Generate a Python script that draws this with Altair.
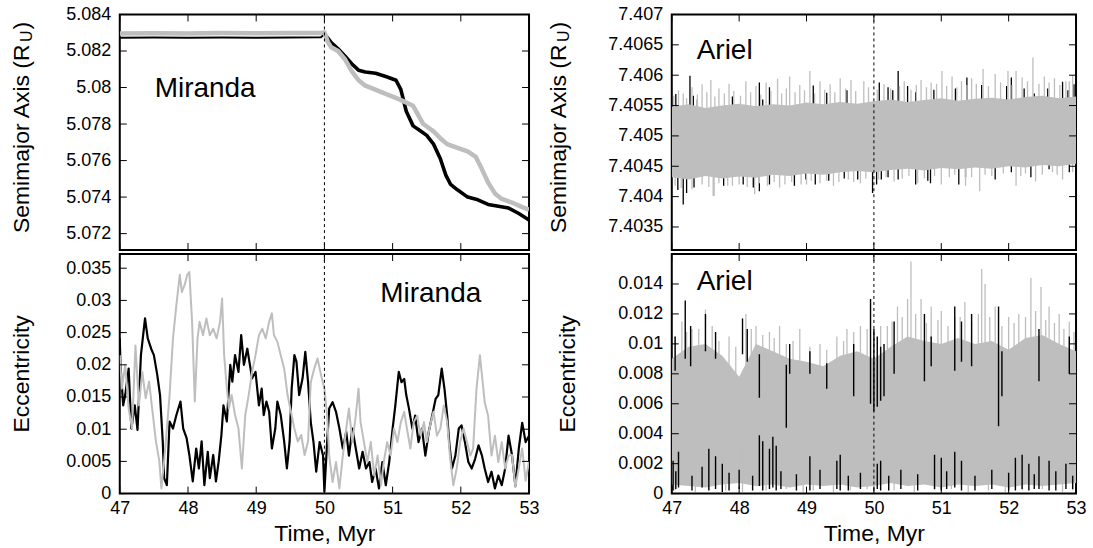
import altair as alt
import pandas as pd

FONT = "Liberation Sans"
GRAY = "#bebebe"
TL = 7  # inward tick length (px)

# ---------------- axis ticks ----------------
X_TICKS = [47, 48, 49, 50, 51, 52, 53]
MIR_A_TICKS = [5.072, 5.074, 5.076, 5.078, 5.08, 5.082, 5.084]
MIR_E_TICKS = [0, 0.005, 0.01, 0.015, 0.02, 0.025, 0.03, 0.035]
ARI_A_TICKS = [7.4035, 7.404, 7.4045, 7.405, 7.4055, 7.406, 7.4065, 7.407]
ARI_E_TICKS = [0, 0.002, 0.004, 0.006, 0.008, 0.01, 0.012, 0.014]
MIR_A_DOM = [5.0711, 5.084]
MIR_E_DOM = [0, 0.0372]
ARI_A_DOM = [7.40312, 7.407]
ARI_E_DOM = [0, 0.016]

# ---------------- Miranda semimajor axis ----------------
mir_a_black_t = [47.0, 47.5, 48.0, 48.5, 49.0, 49.5, 49.95, 50.0, 50.05, 50.1, 50.2, 50.3, 50.4,
                 50.5, 50.6, 50.75, 50.9, 51.05, 51.12, 51.2, 51.3, 51.4, 51.5, 51.6, 51.7, 51.78,
                 51.85, 51.95, 52.1, 52.25, 52.4, 52.55, 52.7, 52.85, 53.0]
mir_a_black = [5.08272, 5.08274, 5.08273, 5.08274, 5.08272, 5.08274, 5.08275, 5.08292, 5.08270,
               5.08246, 5.08212, 5.08173, 5.08130, 5.08095, 5.08085, 5.08078, 5.08060, 5.08040,
               5.07990, 5.07870, 5.07790, 5.07765, 5.07738, 5.07690, 5.07610, 5.07520, 5.07470,
               5.07440, 5.07400, 5.07385, 5.07360, 5.07350, 5.07340, 5.07310, 5.07275]
mir_a_gray_t = [47.0, 47.5, 48.0, 48.5, 49.0, 49.5, 49.95, 50.0, 50.05, 50.1, 50.2, 50.3, 50.4,
                50.5, 50.6, 50.8, 51.0, 51.1, 51.3, 51.45, 51.6, 51.72, 51.8, 51.95, 52.1, 52.22,
                52.3, 52.4, 52.5, 52.6, 52.75, 52.9, 53.0]
mir_a_gray = [5.08296, 5.08297, 5.08296, 5.08298, 5.08297, 5.08298, 5.08299, 5.08302, 5.08250,
              5.08220, 5.08200, 5.08155, 5.08090, 5.08040, 5.08010, 5.07980, 5.07950, 5.07935,
              5.07900, 5.07800, 5.07760, 5.07715, 5.07690, 5.07670, 5.07650, 5.07620, 5.07560,
              5.07480, 5.07420, 5.07390, 5.07370, 5.07345, 5.07332]

# ---------------- Miranda eccentricity ----------------
mir_e_black_t = [47.00, 47.01, 47.05, 47.08, 47.13, 47.17, 47.22, 47.26, 47.31, 47.37, 47.41, 47.46,
                 47.50, 47.55, 47.59, 47.63, 47.65, 47.69, 47.73, 47.78, 47.83, 47.89, 47.93, 47.98,
                 48.02, 48.07, 48.12, 48.16, 48.20, 48.24, 48.29, 48.32, 48.37, 48.41, 48.45, 48.49,
                 48.52, 48.57, 48.62, 48.65, 48.69, 48.74, 48.78, 48.82, 48.87, 48.90, 48.94, 48.99,
                 49.04, 49.08, 49.11, 49.15, 49.19, 49.23, 49.28, 49.31, 49.36, 49.41, 49.45, 49.49,
                 49.52, 49.56, 49.59, 49.63, 49.68, 49.72, 49.76,
                 49.80, 49.84, 49.88, 49.93, 49.98, 50.00, 50.04, 50.07, 50.12, 50.17, 50.22, 50.27,
                 50.32, 50.36, 50.41, 50.46, 50.51, 50.56, 50.61, 50.66, 50.70, 50.75, 50.80, 50.85,
                 50.90, 50.95, 51.00, 51.04, 51.09, 51.13, 51.17, 51.20, 51.24, 51.29, 51.33, 51.38,
                 51.43, 51.48, 51.53, 51.58, 51.63, 51.67, 51.72, 51.76, 51.80, 51.83, 51.87, 51.92,
                 51.97, 52.01, 52.06, 52.11, 52.16, 52.21, 52.26, 52.31, 52.35, 52.40, 52.45, 52.50,
                 52.55, 52.60, 52.65, 52.70, 52.75, 52.80, 52.85, 52.90, 52.95, 53.00]
mir_e_black = [0.0241, 0.0200, 0.0137, 0.0153, 0.0194, 0.0101, 0.0137, 0.0099, 0.0215, 0.0272, 0.0241,
               0.0225, 0.0215, 0.0184, 0.0153, 0.0081, 0.0024, 0.0013, 0.0112, 0.0101, 0.0122, 0.0143,
               0.0101, 0.0086, 0.0060, 0.0019, 0.0070, 0.0039, 0.0081, 0.0013, 0.0065, 0.0024, 0.0060,
               0.0019, 0.0050, 0.0091, 0.0137, 0.0112, 0.0200, 0.0174, 0.0215, 0.0189, 0.0246, 0.0200,
               0.0225, 0.0205, 0.0179, 0.0189, 0.0137, 0.0163, 0.0122, 0.0143, 0.0127, 0.0070, 0.0101,
               0.0143, 0.0122, 0.0081, 0.0039, 0.0081, 0.0163, 0.0215, 0.0205, 0.0153, 0.0179, 0.0220,
               0.0174,
               0.0111, 0.0080, 0.0034, 0.0080, 0.0059, 0.0003, 0.0080, 0.0132, 0.0142, 0.0127, 0.0101,
               0.0070, 0.0096, 0.0059, 0.0101, 0.0070, 0.0039, 0.0065, 0.0039, 0.0049, 0.0018, 0.0039,
               0.0008, 0.0049, 0.0013, 0.0049, 0.0101, 0.0137, 0.0189, 0.0173, 0.0178, 0.0153, 0.0132,
               0.0101, 0.0121, 0.0080, 0.0101, 0.0059, 0.0096, 0.0121, 0.0147, 0.0153, 0.0194, 0.0163,
               0.0121, 0.0080, 0.0039, 0.0059, 0.0101, 0.0106, 0.0080, 0.0049, 0.0039, 0.0054, 0.0075,
               0.0059, 0.0039, 0.0018, 0.0034, 0.0008, 0.0028, 0.0013, 0.0039, 0.0090, 0.0060, 0.0012,
               0.0070, 0.0110, 0.0080, 0.0090]
mir_e_gray_t = [47.00, 47.03, 47.08, 47.13, 47.18, 47.23, 47.28, 47.33, 47.38, 47.43, 47.48, 47.53,
                47.58, 47.61, 47.65, 47.69, 47.73, 47.78, 47.83, 47.88, 47.91, 47.95, 47.99, 48.02,
                48.06, 48.10, 48.14, 48.17, 48.22, 48.27, 48.32, 48.37, 48.42, 48.47, 48.50, 48.53,
                48.57, 48.60, 48.64, 48.69, 48.74, 48.79, 48.84, 48.89, 48.94, 48.99, 49.04, 49.09,
                49.14, 49.19, 49.23, 49.26, 49.31, 49.36, 49.41, 49.46, 49.51, 49.56, 49.61, 49.66,
                49.71, 49.76,
                49.80, 49.85, 49.90, 49.95, 50.00, 50.04, 50.07, 50.12, 50.17, 50.22, 50.27, 50.32,
                50.36, 50.41, 50.46, 50.50, 50.53, 50.58, 50.63, 50.68, 50.73, 50.78, 50.83, 50.87,
                50.92, 50.97, 51.02, 51.07, 51.12, 51.17, 51.21, 51.26, 51.31, 51.36, 51.41, 51.46,
                51.50, 51.55, 51.60, 51.65, 51.70, 51.75, 51.80, 51.84, 51.89, 51.94, 51.99, 52.04,
                52.09, 52.14, 52.18, 52.23, 52.28, 52.32, 52.35, 52.40, 52.45, 52.50, 52.55, 52.60,
                52.65, 52.70, 52.75, 52.80, 52.85, 52.90, 52.95, 53.00]
mir_e_gray = [0.0215, 0.0163, 0.0200, 0.0132, 0.0101, 0.0230, 0.0137, 0.0189, 0.0148, 0.0174, 0.0127,
              0.0081, 0.0050, 0.0008, 0.0050, 0.0101, 0.0153, 0.0241, 0.0293, 0.0340, 0.0313, 0.0324,
              0.0340, 0.0344, 0.0267, 0.0143, 0.0241, 0.0267, 0.0246, 0.0272, 0.0246, 0.0256, 0.0241,
              0.0267, 0.0303, 0.0215, 0.0163, 0.0132, 0.0153, 0.0122, 0.0101, 0.0039, 0.0122, 0.0153,
              0.0189, 0.0215, 0.0246, 0.0256, 0.0241, 0.0267, 0.0280, 0.0246, 0.0236, 0.0215, 0.0194,
              0.0153, 0.0127, 0.0101, 0.0081, 0.0091, 0.0060, 0.0081,
              0.0173, 0.0194, 0.0210, 0.0184, 0.0163, 0.0121, 0.0059, 0.0018, 0.0049, 0.0008, 0.0059,
              0.0101, 0.0132, 0.0080, 0.0121, 0.0163, 0.0111, 0.0080, 0.0049, 0.0080, 0.0028, 0.0059,
              0.0013, 0.0049, 0.0080, 0.0059, 0.0101, 0.0080, 0.0111, 0.0127, 0.0101, 0.0070, 0.0111,
              0.0121, 0.0090, 0.0111, 0.0080, 0.0106, 0.0127, 0.0090, 0.0101, 0.0137, 0.0111, 0.0059,
              0.0013, 0.0039, 0.0080, 0.0101, 0.0080, 0.0059, 0.0070, 0.0163, 0.0215, 0.0173, 0.0142,
              0.0121, 0.0059, 0.0090, 0.0049, 0.0080, 0.0039, 0.0059, 0.0060, 0.0010, 0.0040, 0.0070,
              0.0020, 0.0050]

# ---------------- Ariel semimajor axis (dense band: core envelope + spikes) ----------------
band_t = [47.0, 47.25, 47.5, 47.75, 48.0, 48.25, 48.5, 48.75, 49.0, 49.25, 49.5, 49.75, 50.0,
          50.25, 50.5, 50.75, 51.0, 51.25, 51.5, 51.75, 52.0, 52.25, 52.5, 52.75, 53.0]
ari_a_gray_hi = [7.40548, 7.40552, 7.40546, 7.40550, 7.40553, 7.40549, 7.40552, 7.40550, 7.40555,
                 7.40552, 7.40556, 7.40553, 7.40557, 7.40560, 7.40556, 7.40559, 7.40562, 7.40558,
                 7.40561, 7.40563, 7.40560, 7.40564, 7.40566, 7.40562, 7.40565]
ari_a_gray_lo = [7.40432, 7.40428, 7.40434, 7.40430, 7.40433, 7.40431, 7.40436, 7.40434, 7.40438,
                 7.40436, 7.40440, 7.40442, 7.40440, 7.40444, 7.40446, 7.40443, 7.40447, 7.40445,
                 7.40448, 7.40446, 7.40450, 7.40448, 7.40452, 7.40450, 7.40454]
ari_a_gray_up_t = [47.1, 47.3, 47.45, 47.58, 47.7, 47.85, 48.1, 48.25, 48.4, 48.57, 48.75, 48.9,
                   49.05, 49.2, 49.35, 49.5, 49.66, 49.85, 50.15, 50.45, 50.7, 50.85, 51.01, 51.16,
                   51.3, 51.45, 51.62, 51.8, 51.99, 52.11, 52.2, 52.36, 52.53, 52.68, 52.85, 52.95,
                   47.03, 47.17, 47.22, 47.38, 47.52, 47.64, 47.78, 47.92, 48.02, 48.17, 48.32, 48.47,
                   48.63, 48.70, 48.83, 48.97, 49.12, 49.27, 49.42, 49.58, 49.73, 49.92, 50.05, 50.25,
                   50.38, 50.55, 50.63, 50.78, 50.93, 51.08, 51.23, 51.38, 51.52, 51.70, 51.88, 52.05,
                   52.28, 52.45, 52.60, 52.76, 52.90]
ari_a_gray_up = [7.40575, 7.40580, 7.40585, 7.40592, 7.40578, 7.40586, 7.40590, 7.40582, 7.40588,
                 7.40594, 7.40598, 7.40584, 7.40607, 7.40590, 7.40585, 7.40595, 7.40592, 7.40590,
                 7.40585, 7.40590, 7.40592, 7.40588, 7.40607, 7.40598, 7.40590, 7.40595, 7.40610,
                 7.40602, 7.40607, 7.40607, 7.40596, 7.40629, 7.40598, 7.40595, 7.40590, 7.40600,
                 7.40566, 7.40570, 7.40562, 7.40568, 7.40572, 7.40565, 7.40570, 7.40574, 7.40566,
                 7.40572, 7.40568, 7.40574, 7.40570, 7.40578, 7.40572, 7.40575, 7.40570, 7.40576,
                 7.40572, 7.40578, 7.40574, 7.40580, 7.40576, 7.40578, 7.40582, 7.40576, 7.40584,
                 7.40580, 7.40586, 7.40582, 7.40580, 7.40584, 7.40586, 7.40582, 7.40588, 7.40584,
                 7.40590, 7.40586, 7.40588, 7.40584, 7.40590]
ari_a_gray_dn_t = [47.3, 47.62, 47.9, 48.23, 48.6, 49.0, 49.4, 49.8, 50.3, 50.65, 51.0, 51.36,
                   51.57, 52.11, 52.4, 52.8,
                   47.05, 47.14, 47.45, 47.55, 47.7, 47.83, 48.0, 48.12, 48.3, 48.42, 48.52, 48.68,
                   48.78, 48.92, 49.07, 49.2, 49.3, 49.48, 49.62, 49.7, 49.88, 50.07, 50.18, 50.42,
                   50.52, 50.75, 50.9, 51.12, 51.2, 51.45, 51.65, 51.75, 51.92, 52.18, 52.25, 52.5,
                   52.65, 52.72, 52.95]
ari_a_gray_dn = [7.40412, 7.40401, 7.40418, 7.40404, 7.40415, 7.40420, 7.40418, 7.40422, 7.40425,
                 7.40422, 7.40420, 7.40418, 7.40409, 7.40418, 7.40425, 7.40428,
                 7.40418, 7.40414, 7.40420, 7.40416, 7.40422, 7.40418, 7.40420, 7.40416, 7.40422,
                 7.40418, 7.40424, 7.40420, 7.40424, 7.40420, 7.40426, 7.40422, 7.40426, 7.40424,
                 7.40428, 7.40424, 7.40430, 7.40428, 7.40432, 7.40430, 7.40434, 7.40430, 7.40434,
                 7.40432, 7.40436, 7.40432, 7.40436, 7.40434, 7.40438, 7.40434, 7.40438, 7.40436,
                 7.40440, 7.40436, 7.40440]
ari_a_black_up_t = [47.06, 47.27, 47.32, 47.38, 47.9, 48.3, 48.35, 48.45, 49.1, 49.3, 49.6, 50.08,
                    50.21, 50.28, 50.36, 50.5, 50.62, 50.89, 51.21, 51.38, 51.6, 51.97, 52.04, 52.23,
                    52.38, 52.58, 52.8, 52.88, 52.97]
ari_a_black_up = [7.40569, 7.40599, 7.40566, 7.40560, 7.40565, 7.40588, 7.40560, 7.40580, 7.40583,
                  7.40571, 7.40575, 7.40588, 7.40580, 7.40575, 7.40607, 7.40582, 7.40572, 7.40576,
                  7.40578, 7.40596, 7.40584, 7.40582, 7.40596, 7.40578, 7.40570, 7.40578, 7.40589,
                  7.40575, 7.40585]
ari_a_black_dn_t = [47.09, 47.17, 47.22, 47.33, 47.62, 47.77, 48.06, 48.21, 48.3, 48.45, 48.82, 48.99,
                    49.13, 49.33, 49.56, 49.76, 49.98, 50.04, 50.11, 50.21, 50.36, 50.62, 50.8, 50.84,
                    51.26, 51.36, 51.8, 52.04, 52.33, 52.6, 52.9]
ari_a_black_dn = [7.40411, 7.40387, 7.40406, 7.40415, 7.40401, 7.40418, 7.40420, 7.40415, 7.40409,
                  7.40420, 7.40418, 7.40428, 7.40420, 7.40426, 7.40430, 7.40428, 7.40406, 7.40420,
                  7.40428, 7.40432, 7.40428, 7.40420, 7.40426, 7.40422, 7.40420, 7.40432, 7.40428,
                  7.40440, 7.40432, 7.40445, 7.40440]

# ---------------- Ariel eccentricity (dense band: core envelope + spikes) ----------------
ari_e_gray_hi = [0.0090, 0.0098, 0.0100, 0.0092, 0.0078, 0.0100, 0.0095, 0.0090, 0.0088, 0.0085,
                 0.0092, 0.0095, 0.0090, 0.0098, 0.0105, 0.0102, 0.0100, 0.0104, 0.0100, 0.0102,
                 0.0096, 0.0104, 0.0106, 0.0100, 0.0095]
ari_e_gray_lo = [0.0006, 0.0005, 0.0004, 0.0006, 0.0007, 0.0005, 0.0006, 0.0004, 0.0006, 0.0005,
                 0.0006, 0.0004, 0.0005, 0.0007, 0.0005, 0.0006, 0.0004, 0.0006, 0.0005, 0.0006,
                 0.0004, 0.0006, 0.0005, 0.0006, 0.0007]
ari_e_gray_up_t = [47.15, 47.3, 47.5, 47.6, 47.85, 48.1, 48.25, 48.45, 48.6, 48.9, 49.2, 49.45, 49.6,
                   49.8, 50.2, 50.35, 50.5, 50.55, 50.7, 50.85, 51.0, 51.2, 51.35, 51.6, 51.65, 51.8,
                   52.0, 52.15, 52.33, 52.48, 52.6, 52.75, 52.9,
                   47.05, 47.22, 47.4, 47.7, 47.95, 48.18, 48.35, 48.52, 48.7, 48.8, 49.05, 49.3,
                   49.55, 49.7, 49.9, 50.1, 50.27, 50.42, 50.62, 50.78, 50.95, 51.1, 51.28, 51.45,
                   51.55, 51.72, 51.9, 52.08, 52.25, 52.4, 52.55, 52.68, 52.82, 52.97]
ari_e_gray_up = [0.0115, 0.0110, 0.0123, 0.0112, 0.0105, 0.0120, 0.0112, 0.0108, 0.0112, 0.0110,
                 0.0100, 0.0105, 0.0110, 0.0112, 0.0112, 0.0125, 0.0130, 0.0155, 0.0130, 0.0125,
                 0.0122, 0.0118, 0.0128, 0.0150, 0.0140, 0.0125, 0.0118, 0.0120, 0.0144, 0.0138,
                 0.0125, 0.0120, 0.0115,
                 0.0105, 0.0108, 0.0110, 0.0102, 0.0098, 0.0110, 0.0106, 0.0104, 0.0100, 0.0102,
                 0.0098, 0.0096, 0.0102, 0.0108, 0.0110, 0.0112, 0.0115, 0.0118, 0.0120, 0.0114,
                 0.0116, 0.0112, 0.0118, 0.0115, 0.0120, 0.0118, 0.0112, 0.0114, 0.0118, 0.0122,
                 0.0116, 0.0114, 0.0110, 0.0108]
ari_e_gray_dn_t = [47.05, 47.35, 47.55, 47.8, 48.05, 48.4, 48.7, 48.95, 49.1, 49.4, 49.65, 49.9, 50.0,
                   50.3, 50.6, 50.9, 51.15, 51.4, 51.7, 51.95, 52.2, 52.5, 52.8, 52.95]
ari_e_gray_dn = [0.0002, 0.0001, 0.0003, 0.0002, 0.0001, 0.0002, 0.0003, 0.0001, 0.0002, 0.0001,
                 0.0002, 0.0003, 0.0001, 0.0002, 0.0001, 0.0002, 0.0003, 0.0001, 0.0002, 0.0001,
                 0.0002, 0.0003, 0.0001, 0.0002]
ari_e_black_t = [47.02, 47.1, 47.55, 47.65, 47.75, 48.3, 48.35, 48.45, 48.5, 48.55, 49.05, 49.45,
                 49.5, 50.05, 50.1, 50.9, 51.0, 51.2, 51.3, 52.1, 52.2, 52.3, 52.45, 52.6, 52.85,
                 47.05, 47.2, 47.28, 47.5, 47.65, 48.05, 48.12, 48.3, 48.7, 48.75, 49.05, 49.3,
                 49.7, 49.95, 50.0, 50.05, 50.1, 50.15, 50.3, 50.75, 50.85, 51.2, 51.3, 51.45,
                 51.85, 51.9, 52.45, 52.9,
                 47.06, 47.3, 47.45, 47.85, 48.0, 48.2, 48.62, 48.85, 49.2, 49.62, 49.8, 50.22,
                 50.4, 50.65, 51.08, 51.5, 51.75, 52.0, 52.38, 52.7, 52.95]
ari_e_black_lo = [0.0002, 0.0004, 0.0002, 0.0003, 0.0001, 0.0005, 0.0002, 0.0003, 0.0004, 0.0002,
                  0.0002, 0.0003, 0.0002, 0.0003, 0.0002, 0.0003, 0.0002, 0.0004, 0.0002, 0.0002,
                  0.0003, 0.0002, 0.0003, 0.0002, 0.0003,
                  0.0082, 0.0090, 0.0085, 0.0095, 0.0090, 0.0093, 0.0088, 0.0064, 0.0044, 0.0080,
                  0.0080, 0.0070, 0.0065, 0.0060, 0.0055, 0.0058, 0.0062, 0.0065, 0.0080, 0.0075,
                  0.0085, 0.0082, 0.0088, 0.0085, 0.0045, 0.0065, 0.0075, 0.0080,
                  0.0003, 0.0002, 0.0004, 0.0002, 0.0003, 0.0002, 0.0003, 0.0002, 0.0003, 0.0002,
                  0.0003, 0.0002, 0.0003, 0.0002, 0.0003, 0.0002, 0.0003, 0.0002, 0.0003, 0.0002,
                  0.0003]
ari_e_black_hi = [0.0022, 0.0028, 0.0030, 0.0025, 0.0020, 0.0039, 0.0035, 0.0030, 0.0038, 0.0032,
                  0.0025, 0.0022, 0.0026, 0.0020, 0.0022, 0.0026, 0.0024, 0.0028, 0.0022, 0.0024,
                  0.0026, 0.0020, 0.0025, 0.0022, 0.0020,
                  0.0105, 0.0129, 0.0112, 0.0120, 0.0108, 0.0117, 0.0110, 0.0093, 0.0086, 0.0100,
                  0.0095, 0.0087, 0.0100, 0.0130, 0.0110, 0.0105, 0.0098, 0.0100, 0.0115, 0.0120,
                  0.0105, 0.0125, 0.0115, 0.0120, 0.0125, 0.0095, 0.0110, 0.0105,
                  0.0015, 0.0012, 0.0018, 0.0014, 0.0016, 0.0012, 0.0015, 0.0013, 0.0016, 0.0012,
                  0.0014, 0.0012, 0.0016, 0.0013, 0.0015, 0.0012, 0.0016, 0.0014, 0.0013, 0.0015,
                  0.0012]

# ---------------- layout ----------------
WL, WR = 410, 405
HT, HB = 236, 240
XS = alt.Scale(domain=[47, 53], nice=False, zero=False)


def ys(dom):
    return alt.Scale(domain=dom, nice=False, zero=False)


def y_axis(vals):
    return alt.Axis(values=vals, labelExpr="'' + datum.value", ticks=False, domain=False,
                    grid=False, labelFontSize=18, labelFont=FONT, labelColor="black",
                    labelPadding=9, title=None, labelOverlap=False)


X_AXIS = alt.Axis(values=X_TICKS, labelExpr="'' + datum.value", ticks=False, domain=False,
                  grid=False, labelFontSize=18, labelFont=FONT, labelColor="black",
                  labelPadding=6, labelFlush=False, labelOverlap=False,
                  title="Time, Myr", titleFontSize=23, titleFont=FONT, titleFontWeight="normal",
                  titleColor="black", titlePadding=5)

RULE = dict(color="black", strokeWidth=1)


class Panel:
    def __init__(self, dom, yvals, W, H, bottom):
        self.dom = dom
        self.yvals = yvals
        self.W = W
        self.H = H
        self.yax = y_axis(yvals)
        self.xax = X_AXIS if bottom else None

    def X(self, f):
        return alt.X(f, scale=XS, axis=self.xax)

    def Y(self, f):
        return alt.Y(f, scale=ys(self.dom), axis=self.yax)

    def frame(self):
        ydf = pd.DataFrame({"v": self.yvals})
        xdf = pd.DataFrame({"v": X_TICKS})
        W, H = self.W, self.H
        return [
            alt.Chart(ydf).mark_rule(**RULE).encode(
                y=self.Y("v:Q"), x=alt.value(0), x2=alt.value(TL)),
            alt.Chart(ydf).mark_rule(**RULE).encode(
                y=self.Y("v:Q"), x=alt.value(W - TL), x2=alt.value(W)),
            alt.Chart(xdf).mark_rule(**RULE).encode(
                x=self.X("v:Q"), y=alt.value(H - TL), y2=alt.value(H)),
            alt.Chart(xdf).mark_rule(**RULE).encode(
                x=self.X("v:Q"), y=alt.value(0), y2=alt.value(TL)),
            alt.Chart(pd.DataFrame({"v": [50]})).mark_rule(
                color="black", strokeWidth=1, strokeDash=[3, 3]).encode(x=self.X("v:Q")),
        ]

    def line(self, t, v, color, width, after=None):
        df = pd.DataFrame({"t": t, "v": v})
        ch = alt.Chart(df)
        if after is not None:
            ch = ch.transform_filter(alt.datum.t >= after)
        return ch.mark_line(color=color, strokeWidth=width, clip=True,
                            strokeJoin="round").encode(
            x=self.X("t:Q"), y=self.Y("v:Q"), order="t:Q")

    def band(self, t, lo, hi, color):
        df = pd.DataFrame({"t": t, "lo": lo, "hi": hi})
        return alt.Chart(df).mark_area(color=color, opacity=1, clip=True).encode(
            x=self.X("t:Q"), y=self.Y("lo:Q"), y2="hi:Q")

    def spikes(self, t, lo, hi, color, width=1.3):
        df = pd.DataFrame({"t": t, "lo": lo, "hi": hi})
        return alt.Chart(df).mark_rule(color=color, strokeWidth=width, clip=True).encode(
            x=self.X("t:Q"), y=self.Y("lo:Q"), y2="hi:Q")


def label_layer(text, x, y):
    return alt.Chart(pd.DataFrame({"s": [text]})).mark_text(
        font=FONT, fontSize=28, align="left", baseline="alphabetic", color="black").encode(
        text="s:N", x=alt.value(x), y=alt.value(y))


def ytitle_semimajor(xoff, ybottom):
    main = alt.Chart(pd.DataFrame({"s": ["Semimajor Axis (R"]})).mark_text(
        font=FONT, fontSize=23, angle=270, align="left", baseline="middle", color="black").encode(
        text="s:N", x=alt.value(xoff), y=alt.value(ybottom))
    mlen = 8.278 * 23
    sub = alt.Chart(pd.DataFrame({"s": ["U"]})).mark_text(
        font=FONT, fontSize=16, angle=270, align="left", baseline="middle", color="black").encode(
        text="s:N", x=alt.value(xoff + 5), y=alt.value(ybottom - mlen - 1))
    close = alt.Chart(pd.DataFrame({"s": [")"]})).mark_text(
        font=FONT, fontSize=23, angle=270, align="left", baseline="middle", color="black").encode(
        text="s:N", x=alt.value(xoff), y=alt.value(ybottom - mlen - 1 - 0.722 * 16 - 1))
    return [main, sub, close]


def ytitle_plain(text, xoff, H):
    return [alt.Chart(pd.DataFrame({"s": [text]})).mark_text(
        font=FONT, fontSize=23, angle=270, align="center", baseline="middle", color="black").encode(
        text="s:N", x=alt.value(xoff), y=alt.value(H / 2))]


# --- Miranda semimajor (top-left)
P = Panel(MIR_A_DOM, MIR_A_TICKS, WL, HT, False)
p_tl = alt.layer(
    P.line(mir_a_black_t, mir_a_black, "black", 2.0),
    P.line(mir_a_black_t, mir_a_black, "black", 3.6, after=50.0),
    P.line(mir_a_gray_t, mir_a_gray, GRAY, 4.5),
    *P.frame(),
    label_layer("Miranda", 35, 83),
    *ytitle_semimajor(-98, 219),
).properties(width=WL, height=HT)

# --- Miranda eccentricity (bottom-left)
P = Panel(MIR_E_DOM, MIR_E_TICKS, WL, HB, True)
p_bl = alt.layer(
    P.line(mir_e_black_t, mir_e_black, "black", 2.2),
    P.line(mir_e_gray_t, mir_e_gray, GRAY, 2.0),
    *P.frame(),
    label_layer("Miranda", 261, 48),
    *ytitle_plain("Eccentricity", -98, HB),
).properties(width=WL, height=HB)

# --- Ariel semimajor (top-right)
CA = 7.4050
P = Panel(ARI_A_DOM, ARI_A_TICKS, WR, HT, False)
p_tr = alt.layer(
    P.spikes(ari_a_black_up_t, [CA] * len(ari_a_black_up_t), ari_a_black_up, "black"),
    P.spikes(ari_a_black_dn_t, [CA] * len(ari_a_black_dn_t), ari_a_black_dn, "black"),
    P.spikes(ari_a_gray_up_t, [CA] * len(ari_a_gray_up_t), ari_a_gray_up, GRAY),
    P.spikes(ari_a_gray_dn_t, [CA] * len(ari_a_gray_dn_t), ari_a_gray_dn, GRAY),
    P.band(band_t, ari_a_gray_lo, ari_a_gray_hi, GRAY),
    *P.frame(),
    label_layer("Ariel", 25, 45),
    *ytitle_semimajor(-113, 219),
).properties(width=WR, height=HT)

# --- Ariel eccentricity (bottom-right)
P = Panel(ARI_E_DOM, ARI_E_TICKS, WR, HB, True)
p_br = alt.layer(
    P.band(band_t, ari_e_gray_lo, ari_e_gray_hi, GRAY),
    P.spikes(ari_e_gray_up_t, [0.005] * len(ari_e_gray_up_t), ari_e_gray_up, GRAY),
    P.spikes(ari_e_gray_dn_t, [0.003] * len(ari_e_gray_dn_t), ari_e_gray_dn, GRAY),
    P.spikes(ari_e_black_t, ari_e_black_lo, ari_e_black_hi, "black", 1.4),
    *P.frame(),
    label_layer("Ariel", 25, 36),
    *ytitle_plain("Eccentricity", -104, HB),
).properties(width=WR, height=HB)

left = alt.vconcat(p_tl, p_bl, spacing=0)
right = alt.vconcat(p_tr, p_br, spacing=0)

chart = alt.hconcat(left, right, spacing=5).properties(
    padding={"left": 9, "top": 4, "right": 5, "bottom": 5},
    background="white",
).configure_view(stroke="black", strokeWidth=2)

chart.save("out.html", embed_options={"renderer": "svg", "actions": False})
